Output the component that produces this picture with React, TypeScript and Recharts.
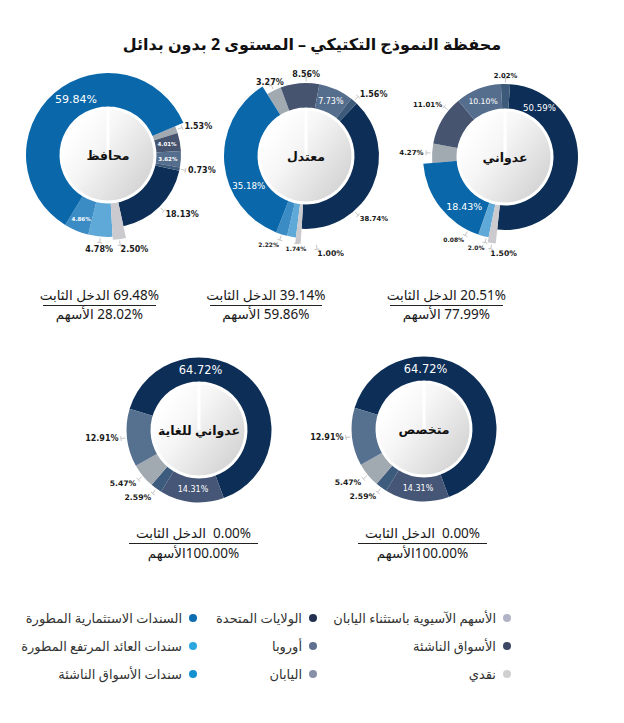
import React from 'react';
import { PieChart, Pie, Cell } from 'recharts';

// ---------------- DATA ----------------
const TITLE = 'محفظة النموذج التكتيكي – المستوى 2 بدون بدائل';

const topCategories = [
  'الولايات المتحدة',
  'نقدي',
  'سندات العائد المرتفع المطورة',
  'سندات الأسواق الناشئة',
  'السندات الاستثمارية المطورة',
  'الأسهم الآسيوية باستثناء اليابان',
  'الأسواق الناشئة',
  'أوروبا',
  'اليابان',
];
const topGroups = ['eq', 'cash', 'fi', 'fi', 'fi', 'eq', 'eq', 'eq', 'eq'];
const topColors = ['#0c2e57', '#cbcbcf', '#5ea9d7', '#3b8bc4', '#0a68aa', '#a1a9b1', '#46546f', '#566e8e', '#3d5a7a'];

const conservativeValues = [18.13, 2.5, 4.78, 4.86, 59.84, 1.53, 4.01, 3.62, 0.73];
const conservativeLabels = ['18.13%', '2.50%', '4.78%', '4.86%', '59.84%', '1.53%', '4.01%', '3.62%', '0.73%'];

const moderateValues = [38.74, 1.0, 1.74, 2.22, 35.18, 3.27, 8.56, 7.73, 1.56];
const moderateLabels = ['38.74%', '1.00%', '1.74%', '2.22%', '35.18%', '3.27%', '8.56%', '7.73%', '1.56%'];

const aggressiveValues = [50.59, 1.5, 2.0, 0.08, 18.43, 4.27, 11.01, 10.1, 2.02];
const aggressiveLabels = ['50.59%', '1.50%', '2.0%', '0.08%', '18.43%', '4.27%', '11.01%', '10.10%', '2.02%'];

const bottomCategories = ['الولايات المتحدة', 'الأسواق الناشئة', 'اليابان', 'الأسهم الآسيوية باستثناء اليابان', 'أوروبا'];
const bottomGroups = ['eq', 'eq', 'eq', 'eq', 'eq'];
const bottomColors = ['#0c2e57', '#465676', '#3d5b7c', '#a1a9b1', '#56708f'];

const veryAggressiveValues = [64.72, 14.31, 2.59, 5.47, 12.91];
const veryAggressiveLabels = ['64.72%', '14.31%', '2.59%', '5.47%', '12.91%'];

const specialistValues = [64.72, 14.31, 2.59, 5.47, 12.91];
const specialistLabels = ['64.72%', '14.31%', '2.59%', '5.47%', '12.91%'];

const portfolioNames = ['محافظ', 'معتدل', 'عدواني', 'عدواني للغاية', 'متخصص'];
const fixedIncomeShares = ['69.48%', '39.14%', '20.51%', '0.00%', '0.00%'];
const equityShares = ['28.02%', '59.86%', '77.99%', '100.00%', '100.00%'];

const legendNames = [
  'الأسهم الآسيوية باستثناء اليابان',
  'الولايات المتحدة',
  'السندات الاستثمارية المطورة',
  'الأسواق الناشئة',
  'أوروبا',
  'سندات العائد المرتفع المطورة',
  'نقدي',
  'اليابان',
  'سندات الأسواق الناشئة',
];
const legendColors = ['#b1b4c7', '#23304f', '#0d6db1', '#3d4866', '#616f8f', '#2aa7df', '#d0d0d0', '#8790a6', '#1391d0'];

// ---------------- LAYOUT / STYLE ----------------
const W = 624;
const H = 723;
const FONT = '"Noto Sans", "DejaVu Sans", sans-serif';
const FONT_LBL = '"DejaVu Sans", Verdana, sans-serif';
const INNER = 47;

type LC = { m: 'i' | 'o'; s: number; w?: number; a?: number; anchor?: 'start' | 'end' | 'middle'; dr?: number };

const cfgConservative: LC[] = [
  { m: 'o', s: 8 },
  { m: 'o', s: 8, anchor: 'start' },
  { m: 'o', s: 8 },
  { m: 'i', s: 5.5, w: 700, dr: 5 },
  { m: 'i', s: 11, a: 11 },
  { m: 'o', s: 8 },
  { m: 'i', s: 5.5, w: 700 },
  { m: 'i', s: 5.5, w: 700 },
  { m: 'o', s: 8 },
];
const cfgModerate: LC[] = [
  { m: 'o', s: 6.8, a: 25 },
  { m: 'o', s: 7.7, a: -12, anchor: 'start' },
  { m: 'o', s: 6, a: -4 },
  { m: 'o', s: 6, anchor: 'end' },
  { m: 'i', s: 8.7, a: -22 },
  { m: 'o', s: 8 },
  { m: 'o', s: 8, a: 5 },
  { m: 'i', s: 8 },
  { m: 'o', s: 8 },
];
const cfgAggressive: LC[] = [
  { m: 'i', s: 8.6, a: -60 },
  { m: 'o', s: 7.7, anchor: 'start' },
  { m: 'o', s: 6, anchor: 'end', a: -2 },
  { m: 'o', s: 6, anchor: 'end', a: 8 },
  { m: 'i', s: 9.5, a: -13 },
  { m: 'o', s: 7 },
  { m: 'o', s: 7, a: 9 },
  { m: 'i', s: 7.7 },
  { m: 'o', s: 6.8 },
];
const cfgBottom: LC[] = [
  { m: 'i', s: 11.4, a: -42 },
  { m: 'i', s: 8 },
  { m: 'o', s: 7.7 },
  { m: 'o', s: 7.7 },
  { m: 'o', s: 8 },
];

type Donut = {
  key: string;
  name: string;
  cx: number;
  cy: number;
  start: number; // bearing (deg, clockwise from 12 o'clock) where the first slice begins
  values: number[];
  labels: string[];
  cats: string[];
  groups: string[];
  colors: string[];
  cfg: LC[];
  radii: Record<string, number>;
};

const donuts: Donut[] = [
  { key: 'd1', name: portfolioNames[0], cx: 108, cy: 155, start: 102.5, values: conservativeValues, labels: conservativeLabels, cats: topCategories, groups: topGroups, colors: topColors, cfg: cfgConservative, radii: { eq: 73, fi: 82, cash: 85 } },
  { key: 'd2', name: portfolioNames[1], cx: 306, cy: 156, start: 44, values: moderateValues, labels: moderateLabels, cats: topCategories, groups: topGroups, colors: topColors, cfg: cfgModerate, radii: { eq: 73, fi: 82, cash: 88 } },
  { key: 'd3', name: portfolioNames[2], cx: 505, cy: 157, start: 4, values: aggressiveValues, labels: aggressiveLabels, cats: topCategories, groups: topGroups, colors: topColors, cfg: cfgAggressive, radii: { eq: 73, fi: 82, cash: 87 } },
  { key: 'd4', name: portfolioNames[3], cx: 199, cy: 430, start: 287, values: veryAggressiveValues, labels: veryAggressiveLabels, cats: bottomCategories, groups: bottomGroups, colors: bottomColors, cfg: cfgBottom, radii: { eq: 72.5 } },
  { key: 'd5', name: portfolioNames[4], cx: 424, cy: 429, start: 287, values: specialistValues, labels: specialistLabels, cats: bottomCategories, groups: bottomGroups, colors: bottomColors, cfg: cfgBottom, radii: { eq: 72.5 } },
];

const summaryPos = [
  { x: 42.7, w: 113.3, y: 295, gap: 19 },
  { x: 210, w: 111.7, y: 295, gap: 19 },
  { x: 390, w: 112.7, y: 295, gap: 19 },
  { x: 129, w: 129, y: 533, gap: 20.5 },
  { x: 358, w: 129, y: 533, gap: 20.5 },
];
const legendCols = [507, 313, 193];
const legendRows = [618, 645.5, 674];

function makeLabel(d: Donut) {
  return (p: any) => {
    const i: number = p?.payload?.idx ?? p?.idx ?? p?.index ?? 0;
    const c = d.cfg[i];
    if (!c) return null;
    const R = d.radii[d.groups[i]];
    const b = ((90 - p.midAngle) + (c.a ?? 0)) * Math.PI / 180;
    const sx = Math.sin(b);
    const sy = -Math.cos(b);
    const cx = p.cx;
    const cy = p.cy;
    if (c.m === 'i') {
      const r = (INNER + R) / 2 + (c.dr ?? 0);
      return (
        <text key={`l${i}`} x={cx + r * sx} y={cy + r * sy} textAnchor="middle" dominantBaseline="central"
          fill="#ffffff" fontSize={c.s} fontWeight={c.w ?? 400} fontFamily={FONT_LBL}>
          {d.labels[i]}
        </text>
      );
    }
    const r1 = R + 1.5;
    const r2 = R + 6;
    const x1 = cx + r1 * sx, y1 = cy + r1 * sy;
    const x2 = cx + r2 * sx, y2 = cy + r2 * sy;
    const px = -sy, py = sx;
    const anchor = c.anchor ?? (sx > 0.5 ? 'start' : sx < -0.5 ? 'end' : 'middle');
    let tx: number, ty: number;
    if (anchor === 'middle') {
      const r3 = sy > 0 ? R + 7 + c.s * 0.75 : R + 5 + c.s * 0.5;
      tx = cx + r3 * sx;
      ty = cy + r3 * sy;
    } else {
      const r3 = R + 8.5;
      tx = cx + r3 * sx;
      ty = cy + r3 * sy + (sy > 0.3 ? 2 : 0);
    }
    return (
      <g key={`l${i}`}>
        <line x1={x1} y1={y1} x2={x2} y2={y2} stroke="#c6c6c6" strokeWidth={1} />
        <line x1={x2 - 2.5 * px} y1={y2 - 2.5 * py} x2={x2 + 2.5 * px} y2={y2 + 2.5 * py} stroke="#c6c6c6" strokeWidth={1} />
        <text x={tx} y={ty} textAnchor={anchor} dominantBaseline="central" fill="#1a1a1a"
          fontSize={c.s} fontWeight={700} fontFamily={FONT_LBL}>
          {d.labels[i]}
        </text>
      </g>
    );
  };
}

function centerLabel(name: string) {
  return (p: any) => (
    <text x={p.cx} y={p.cy} textAnchor="middle" dominantBaseline="central" fill="#111"
      fontSize={12.5} fontWeight={700} fontFamily={FONT}>
      {name}
    </text>
  );
}

function buildPies() {
  const out: React.ReactElement[] = [];
  donuts.forEach((d) => {
    const rows = d.values.map((v, i) => ({ name: d.cats[i], value: v, idx: i }));
    const startAngle = 90 - d.start;
    const endAngle = startAngle - 360;
    const groupKeys = Object.keys(d.radii);
    groupKeys.forEach((g) => {
      out.push(
        <Pie key={`${d.key}-${g}`} data={rows} dataKey="value" nameKey="name" cx={d.cx} cy={d.cy}
          innerRadius={INNER} outerRadius={d.radii[g]} startAngle={startAngle} endAngle={endAngle}
          isAnimationActive={false} stroke="none" labelLine={false} label={false}>
          {rows.map((r, i) => (
            <Cell key={i} fill={d.groups[i] === g ? d.colors[i] : 'none'} stroke="none" />
          ))}
        </Pie>
      );
    });
    out.push(
      <Pie key={`${d.key}-labels`} data={rows} dataKey="value" nameKey="name" cx={d.cx} cy={d.cy}
        innerRadius={INNER} outerRadius={INNER + 1} startAngle={startAngle} endAngle={endAngle}
        isAnimationActive={false} stroke="none" labelLine={false} label={makeLabel(d)}>
        {rows.map((r, i) => (
          <Cell key={i} fill="none" stroke="none" />
        ))}
      </Pie>
    );
    out.push(
      <Pie key={`${d.key}-center`} data={[{ name: d.name, value: 1 }]} dataKey="value" cx={d.cx} cy={d.cy}
        innerRadius={0} outerRadius={INNER} startAngle={90} endAngle={-270}
        isAnimationActive={false} labelLine={false} label={centerLabel(d.name)}>
        <Cell fill="url(#centerGrad)" stroke="#ffffff" strokeWidth={3} />
      </Pie>
    );
  });
  return out;
}

export default function App() {
  return (
    <div style={{ position: 'absolute', left: 0, top: 0, width: W, height: H, background: '#ffffff', overflow: 'hidden' }}>
      <svg width={0} height={0} style={{ position: 'absolute' }}>
        <defs>
          <linearGradient id="centerGrad" x1="0.15" y1="0.2" x2="1" y2="0.85">
            <stop offset="0" stopColor="#ffffff" />
            <stop offset="0.3" stopColor="#f6f6f6" />
            <stop offset="1" stopColor="#cfcfcf" />
          </linearGradient>
        </defs>
      </svg>
      <div style={{ position: 'absolute', left: 0, top: 0 }}>
        <PieChart width={W} height={H} margin={{ top: 0, right: 0, bottom: 0, left: 0 }}>
          {buildPies()}
        </PieChart>
      </div>

      <div dir="rtl" style={{ position: 'absolute', left: 0, top: 32, width: W, height: 24, lineHeight: '24px', textAlign: 'center', fontFamily: FONT, fontWeight: 700, fontSize: 16, color: '#111' }}>
        {TITLE}
      </div>

      {summaryPos.map((s, i) => {
        const bottom = i >= 3;
        const t1 = bottom ? `${fixedIncomeShares[i]}  الدخل الثابت` : `${fixedIncomeShares[i]} الدخل الثابت`;
        const t2 = bottom ? `${equityShares[i]}الأسهم` : `${equityShares[i]} الأسهم`;
        return (
          <React.Fragment key={`s${i}`}>
            <div dir="rtl" style={{ position: 'absolute', left: s.x - 20, width: s.w + 40, top: s.y - 9.5, height: 19, lineHeight: '19px', textAlign: 'center', fontFamily: FONT, fontSize: 13.5, color: '#1a1a1a', whiteSpace: 'pre' }}>{t1}</div>
            <div style={{ position: 'absolute', left: s.x, width: s.w, top: s.y + 9.5, height: 1.3, background: '#222' }} />
            <div dir="rtl" style={{ position: 'absolute', left: s.x - 20, width: s.w + 40, top: s.y + s.gap - 9.5, height: 19, lineHeight: '19px', textAlign: 'center', fontFamily: FONT, fontSize: 13.5, color: '#1a1a1a', whiteSpace: 'pre' }}>{t2}</div>
          </React.Fragment>
        );
      })}

      {legendNames.map((n, i) => {
        const col = i % 3;
        const row = Math.floor(i / 3);
        const dotX = legendCols[col];
        const y = legendRows[row];
        return (
          <div key={`lg${i}`} dir="rtl" style={{ position: 'absolute', right: W - dotX - 4, top: y - 11, height: 22, display: 'flex', alignItems: 'center', whiteSpace: 'nowrap', fontFamily: FONT, fontSize: 13, color: '#333' }}>
            <span style={{ width: 8, height: 8, borderRadius: 4, background: legendColors[i], display: 'inline-block', marginLeft: 7, flex: 'none' }} />
            <span>{n}</span>
          </div>
        );
      })}
    </div>
  );
}
